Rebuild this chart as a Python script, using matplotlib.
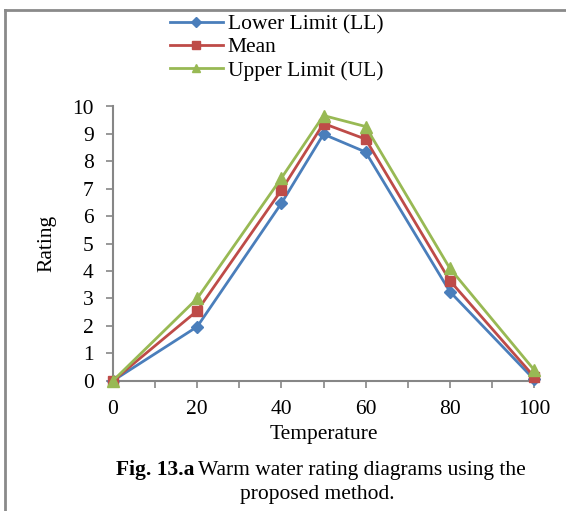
import matplotlib
matplotlib.use('Agg')
from matplotlib import pyplot as plt
from matplotlib.lines import Line2D

temperature = [0, 20, 40, 50, 60, 80, 100]
lower_limit = [0, 1.97, 6.47, 8.99, 8.34, 3.25, 0.05]
mean = [0, 2.55, 6.95, 9.38, 8.81, 3.65, 0.15]
upper_limit = [0, 3.0, 7.39, 9.67, 9.27, 4.1, 0.4]
series_names = ['Lower Limit (LL)', 'Mean', 'Upper Limit (UL)']

plt.rcParams['font.family'] = ['Liberation Serif', 'DejaVu Serif']
axis_gray = '#868686'
fs = 15.5

fig = plt.figure(figsize=(5.66, 5.11), dpi=100)
ax = fig.add_axes([113/566, 1-380.7/511, (534-113)/566, (380.7-106.5)/511])

ax.plot(temperature, lower_limit, color='#4A7EBB', marker='D', markersize=6, lw=2, label=series_names[0], clip_on=False, zorder=3)
ax.plot(temperature, mean, color='#BE4B48', marker='s', markersize=7, lw=2, label=series_names[1], clip_on=False, zorder=4)
ax.plot(temperature, upper_limit, color='#98B954', marker='^', markersize=8, lw=2, label=series_names[2], clip_on=False, zorder=5)

ax.set_xlim(0, 100)
ax.set_ylim(0, 10)
ax.set_xticks(range(0, 101, 20))
ax.set_xticks(range(0, 101, 10), minor=True)
ax.set_yticks(range(0, 11))
ax.tick_params(axis='both', which='both', direction='out', color=axis_gray, width=1.2, length=5, labelsize=fs, labelcolor='black')
ax.tick_params(axis='x', pad=9)
ax.tick_params(axis='y', pad=9)
for s in ['top', 'right']:
    ax.spines[s].set_visible(False)
for s in ['left', 'bottom']:
    ax.spines[s].set_color(axis_gray)
    ax.spines[s].set_linewidth(1.5)

ax.set_xlabel('Temperature', fontsize=fs, labelpad=4)
ax.set_ylabel('Rating', fontsize=fs, labelpad=11)

fig.legend(loc='upper left', bbox_to_anchor=(170/566, 1-14/511), frameon=False, fontsize=fs,
           handlelength=2.45, handletextpad=0.23, labelspacing=0.15, borderaxespad=0,
           borderpad=0, markerscale=0.8)

# figure border (left and top)
fig.add_artist(Line2D([5/566, 5/566], [0, 1-10.5/511], color='#8a8a8a', lw=2))
fig.add_artist(Line2D([5/566, 1], [1-10.5/511, 1-10.5/511], color='#8a8a8a', lw=2))

# caption
t1 = fig.text(0, 1-470/511, 'Fig. 13.a', fontsize=fs, fontweight='bold', ha='left', va='center')
t2 = fig.text(0, 1-470/511, 'Warm water rating diagrams using the', fontsize=fs, ha='left', va='center')
fig.canvas.draw()
W = fig.bbox.width
w1 = t1.get_window_extent().width
w2 = t2.get_window_extent().width
gap = 4
x0 = 321 - (w1 + gap + w2) / 2
t1.set_x(x0 / W)
t2.set_x((x0 + w1 + gap) / W)
fig.text(317/566, 1-494/511, 'proposed method.', fontsize=fs, ha='center', va='center')

fig.savefig('out.png', dpi=100)
